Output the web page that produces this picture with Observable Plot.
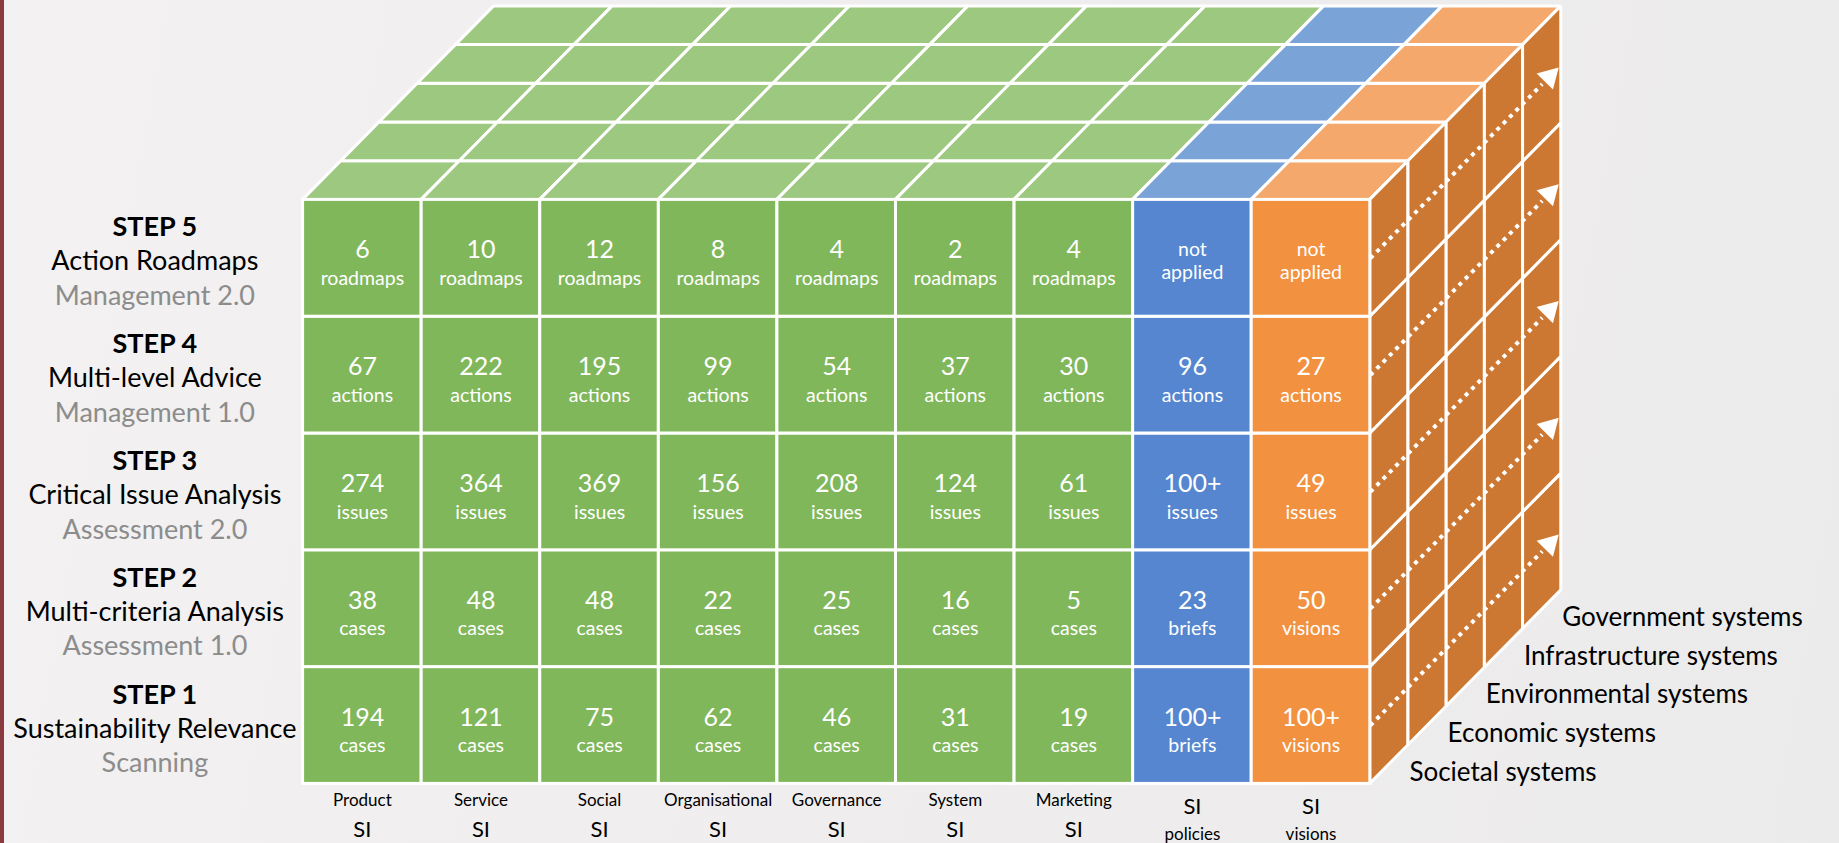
<!DOCTYPE html>
<html>
<head>
<meta charset="utf-8">
<script src="https://cdn.jsdelivr.net/npm/d3@7"></script>
<script src="https://cdn.jsdelivr.net/npm/@observablehq/plot@0.6"></script>
<style>
  html, body { margin: 0; padding: 0; }
  body {
    width: 1839px; height: 843px; overflow: hidden;
    background: linear-gradient(100deg, #f3f1f1 0%, #efeded 50%, #ecebeb 100%);
    box-shadow: inset 4px 0 0 #8b3a3f;
  }
  #chart svg { display: block; background: transparent; }
</style>
</head>
<body>
<div id="chart"></div>
<script>
// ---------------- data ----------------
const stepNames  = ["STEP 1", "STEP 2", "STEP 3", "STEP 4", "STEP 5"];
const stepTitles = ["Sustainability Relevance", "Multi-criteria Analysis", "Critical Issue Analysis", "Multi-level Advice", "Action Roadmaps"];
const stepPhases = ["Scanning", "Assessment 1.0", "Assessment 2.0", "Management 1.0", "Management 2.0"];

const columnNames  = ["Product", "Service", "Social", "Organisational", "Governance", "System", "Marketing", "policies", "visions"];
const columnGroups = ["green", "green", "green", "green", "green", "green", "green", "blue", "orange"];

const valuesStep1 = ["194", "121", "75", "62", "46", "31", "19", "100+", "100+"];
const unitsStep1  = ["cases", "cases", "cases", "cases", "cases", "cases", "cases", "briefs", "visions"];
const valuesStep2 = ["38", "48", "48", "22", "25", "16", "5", "23", "50"];
const unitsStep2  = ["cases", "cases", "cases", "cases", "cases", "cases", "cases", "briefs", "visions"];
const valuesStep3 = ["274", "364", "369", "156", "208", "124", "61", "100+", "49"];
const unitsStep3  = ["issues", "issues", "issues", "issues", "issues", "issues", "issues", "issues", "issues"];
const valuesStep4 = ["67", "222", "195", "99", "54", "37", "30", "96", "27"];
const unitsStep4  = ["actions", "actions", "actions", "actions", "actions", "actions", "actions", "actions", "actions"];
const valuesStep5 = ["6", "10", "12", "8", "4", "2", "4", null, null];
const unitsStep5  = ["roadmaps", "roadmaps", "roadmaps", "roadmaps", "roadmaps", "roadmaps", "roadmaps", "not\napplied", "not\napplied"];

const systems = ["Societal systems", "Economic systems", "Environmental systems", "Infrastructure systems", "Government systems"];

// ---------------- styling ----------------
const frontColor = {green: "#80b75a", blue: "#5586cf", orange: "#f29140"};
const topColor   = {green: "#9dc87f", blue: "#7aa3d8", orange: "#f4a86b"};
const sideColor  = "#cc7832";
const FONT = "Lato, 'Open Sans', sans-serif";

// oblique projection of the depth axis (per layer, in column / row units)
const A = 0.3221, B = 0.3313;

const stepValues = [valuesStep1, valuesStep2, valuesStep3, valuesStep4, valuesStep5];
const stepUnits  = [unitsStep1, unitsStep2, unitsStep3, unitsStep4, unitsStep5];
const nC = columnNames.length, nR = stepNames.length, nD = systems.length;

const cells = [];
for (let r = 0; r < nR; r++) for (let c = 0; c < nC; c++) {
  cells.push({c, r, value: stepValues[r][c], unit: stepUnits[r][c], fill: frontColor[columnGroups[c]]});
}
const topFace = [];
for (let c = 0; c < nC; c++) for (let d = 0; d < nD; d++) {
  const id = `t${c}-${d}`, fill = topColor[columnGroups[c]];
  topFace.push({id, fill, y: nR + d * B, x1: c + d * A, x2: c + 1 + d * A});
  topFace.push({id, fill, y: nR + (d + 1) * B, x1: c + (d + 1) * A, x2: c + 1 + (d + 1) * A});
}
const sideFace = [];
for (let r = 0; r < nR; r++) for (let d = 0; d < nD; d++) {
  const id = `s${r}-${d}`;
  sideFace.push({id, x: nC + d * A, y1: r + d * B, y2: r + 1 + d * B});
  sideFace.push({id, x: nC + (d + 1) * A, y1: r + (d + 1) * B, y2: r + 1 + (d + 1) * B});
}
const rows = stepNames.map((s, r) => ({r, name: s, title: stepTitles[r], phase: stepPhases[r]}));
const cols = columnNames.map((n, c) => ({c, name: n, group: columnGroups[c]}));
const layers = systems.map((s, d) => ({d, name: s}));

const chart = Plot.plot({
  width: 1839,
  height: 843,
  margin: 0,
  x: {domain: [0, nC], range: [302.6, 1369.8], axis: null},
  y: {domain: [0, nR], range: [783.4, 199.4], axis: null},
  color: {type: "identity"},
  style: {fontFamily: FONT, background: "transparent"},
  marks: [
    // top face
    Plot.areaX(topFace, {y: "y", x1: "x1", x2: "x2", z: "id", fill: "fill", stroke: "white", strokeWidth: 3, strokeLinejoin: "miter", curve: "linear"}),
    // right side face
    Plot.areaY(sideFace, {x: "x", y1: "y1", y2: "y2", z: "id", fill: sideColor, stroke: "white", strokeWidth: 3, strokeLinejoin: "miter", curve: "linear"}),
    // front face
    Plot.rect(cells, {x1: "c", x2: d => d.c + 1, y1: "r", y2: d => d.r + 1, fill: "fill", stroke: "white", strokeWidth: 3}),
    // dotted arrows along depth
    Plot.link(rows, {x1: nC, y1: d => d.r + 0.5, x2: nC + nD * A * 0.9, y2: d => d.r + 0.5 + nD * B * 0.9,
      stroke: "white", strokeWidth: 4, strokeDasharray: "4 5"}),
    Plot.dot(rows, {x: nC + nD * A * 0.938, y: d => d.r + 0.5 + nD * B * 0.938, symbol: "triangle", r: 8.5,
      rotate: 44.6, fill: "white", stroke: "none"}),
    // cell numbers and units
    Plot.text(cells.filter(d => d.value != null), {x: d => d.c + 0.5, y: d => d.r + 0.5, text: "value",
      fill: "white", fontSize: 25, dy: -8, fontFamily: FONT}),
    Plot.text(cells.filter(d => d.value != null), {x: d => d.c + 0.5, y: d => d.r + 0.5, text: "unit",
      fill: "white", fontSize: 19.5, dy: 20.5, fontFamily: FONT}),
    Plot.text(cells.filter(d => d.value == null), {x: d => d.c + 0.5, y: d => d.r + 0.5, text: "unit",
      fill: "white", fontSize: 19.5, lineHeight: 1.2, dy: 1.5, fontFamily: FONT}),
    // step labels on the left
    Plot.text(rows, {x: -1.25, y: d => d.r + 0.5, text: "name", fontWeight: "bold", fontSize: 27, fill: "black", dy: -30.5, fontFamily: FONT}),
    Plot.text(rows, {x: -1.25, y: d => d.r + 0.5, text: "title", fontSize: 27, fill: "black", dy: 3.5, fontFamily: FONT}),
    Plot.text(rows, {x: -1.25, y: d => d.r + 0.5, text: "phase", fontSize: 27, fill: "#8c8c8c", dy: 38, fontFamily: FONT}),
    // column labels below
    Plot.text(cols.filter(d => d.group === "green"), {x: d => d.c + 0.5, y: 0, text: "name", fontSize: 17, fill: "black", dy: 16.2, fontFamily: FONT}),
    Plot.text(cols.filter(d => d.group === "green"), {x: d => d.c + 0.5, y: 0, text: () => "SI", fontSize: 22, fill: "black", dy: 45.6, fontFamily: FONT}),
    Plot.text(cols.filter(d => d.group !== "green"), {x: d => d.c + 0.5, y: 0, text: () => "SI", fontSize: 22, fill: "black", dy: 22.6, fontFamily: FONT}),
    Plot.text(cols.filter(d => d.group !== "green"), {x: d => d.c + 0.5, y: 0, text: "name", fontSize: 17, fill: "black", dy: 51, fontFamily: FONT}),
    // system labels along depth
    Plot.text(layers, {x: d => nC + (d.d + 0.5) * A, y: d => (d.d + 0.5) * B, text: "name", textAnchor: "start",
      fontSize: 26, fill: "black", dx: 20, dy: 8, fontFamily: FONT})
  ]
});
document.getElementById("chart").append(chart);
</script>
</body>
</html>
